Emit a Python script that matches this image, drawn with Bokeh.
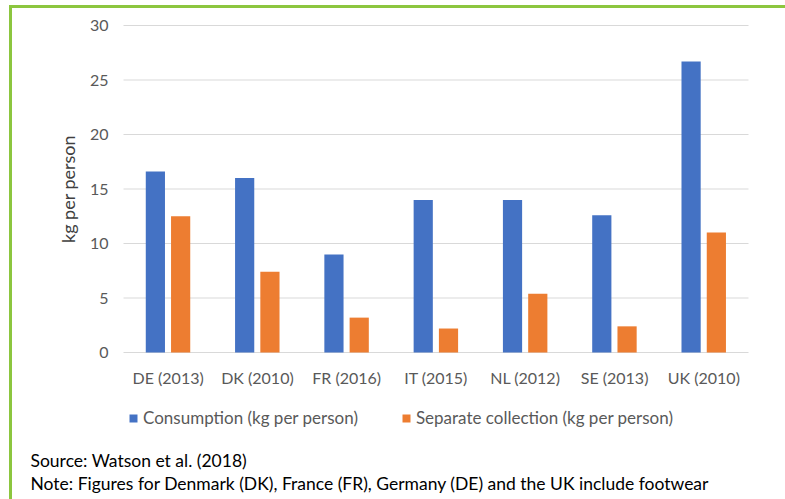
from bokeh.plotting import figure
from bokeh.models import Range1d, Legend, LegendItem, FixedTicker, Label
from bokeh.transform import dodge
from bokeh.embed import file_html
from bokeh.resources import INLINE

countries = ["DE (2013)", "DK (2010)", "FR (2016)", "IT (2015)", "NL (2012)", "SE (2013)", "UK (2010)"]
consumption = [16.6, 16.0, 9.0, 14.0, 14.0, 12.6, 26.7]
separate = [12.5, 7.4, 3.2, 2.2, 5.4, 2.4, 11.0]
y_ticks = [0, 5, 10, 15, 20, 25, 30]
series_names = ["Consumption (kg per person)", "Separate collection (kg per person)"]
y_label = "kg per person"
source_text = "Source: Watson et al. (2018)"
note_text = "Note: Figures for Denmark (DK), France (FR), Germany (DE) and the UK include footwear"

BLUE = "#4472C4"
ORANGE = "#ED7D31"
GREEN = "#8cc63f"
FONT = "Lato"

W, H = 785, 499
# plot area (in pixels) inside the canvas
PL, PR, PT, PB = 123, 748, 25, 352
n = len(countries)
ymax = y_ticks[-1]
ppc = (PR - PL) / n
ppu = (PB - PT) / ymax

x_range = Range1d(-PL / ppc, n + (W - PR) / ppc)
y_range = Range1d(-(H - PB) / ppu, ymax + PT / ppu)

def dx(px):
    return (px - PL) / ppc

def dy(py):
    return (PB - py) / ppu

p = figure(width=W, height=H, x_range=x_range, y_range=y_range,
           output_backend="svg", toolbar_location=None,
           min_border_left=0, min_border_right=0, min_border_top=0, min_border_bottom=0)
p.outline_line_color = None
p.background_fill_color = "white"
p.border_fill_color = "white"
p.xgrid.grid_line_color = None
p.ygrid.grid_line_color = None

xs = [i + 0.5 for i in range(n)]
data = dict(x=xs, cons=consumption, sep=separate)

# horizontal gridlines across the category area
p.segment(x0=[0] * len(y_ticks), x1=[n] * len(y_ticks), y0=y_ticks, y1=y_ticks,
          line_color="#d9d9d9", line_width=1)

r1 = p.vbar(x=dodge("x", -0.143), top="cons", width=0.215, source=data,
            fill_color=BLUE, line_color=None)
r2 = p.vbar(x=dodge("x", 0.14), top="sep", width=0.215, source=data,
            fill_color=ORANGE, line_color=None)

# y axis
yax = p.yaxis[0]
yax.fixed_location = 0
yax.bounds = (0, ymax)
yax.ticker = FixedTicker(ticks=y_ticks)
yax.major_tick_line_color = None
yax.major_tick_out = 0
yax.major_tick_in = 0
yax.minor_tick_line_color = None
yax.axis_line_color = None
yax.major_label_standoff = 15
yax.major_label_text_font = FONT
yax.major_label_text_font_size = "16px"
yax.major_label_text_color = "#595959"
yax.axis_label = y_label
yax.axis_label_text_font = FONT
yax.axis_label_text_font_size = "18px"
yax.axis_label_text_font_style = "normal"
yax.axis_label_text_color = "#404040"
yax.axis_label_standoff = 8

# x axis
xax = p.xaxis[0]
xax.fixed_location = 0
xax.bounds = (0, n)
xax.ticker = FixedTicker(ticks=xs)
xax.major_label_overrides = {x: c for x, c in zip(xs, countries)}
xax.major_tick_line_color = None
xax.major_tick_out = 0
xax.major_tick_in = 0
xax.minor_tick_line_color = None
xax.axis_line_color = None
xax.major_label_standoff = 15
xax.major_label_text_font = FONT
xax.major_label_text_font_size = "16px"
xax.major_label_text_color = "#595959"

legend = Legend(items=[LegendItem(label=series_names[0], renderers=[r1]),
                       LegendItem(label=series_names[1], renderers=[r2])],
                orientation="horizontal", location=(128, H - 428),
                label_text_font=FONT, label_text_font_size="17px", label_text_color="#595959",
                glyph_width=10, glyph_height=10, label_standoff=5, spacing=43,
                padding=0, margin=0, border_line_color=None, background_fill_alpha=0)
p.add_layout(legend, "center")

for txt, ypix in [(source_text, 460), (note_text, 483)]:
    p.add_layout(Label(x=dx(30), y=dy(ypix), text=txt, text_font=FONT, text_font_size="17.5px",
                       text_color="#000000", text_align="left", text_baseline="middle"))

# green frame: left and top edges only (the others run off the picture)
p.segment(x0=[dx(10), dx(10)], y0=[dy(6), dy(6)], x1=[dx(10), dx(W + 20)], y1=[dy(H + 20), dy(6)],
          line_color=GREEN, line_width=3, line_cap="square")

open("out.html", "w").write(file_html(p, INLINE))
